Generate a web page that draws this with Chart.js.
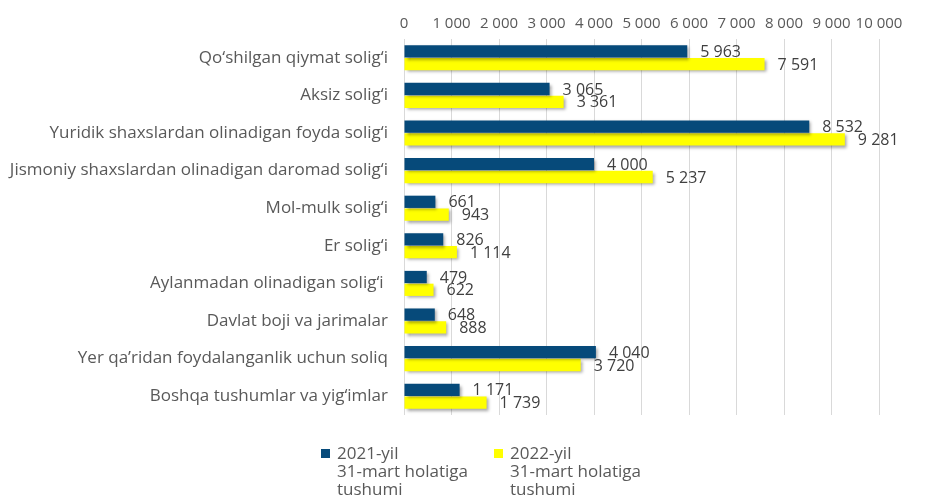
<!DOCTYPE html>
<html>
<head>
<meta charset="utf-8">
<script src="https://cdn.jsdelivr.net/npm/chart.js@4/dist/chart.umd.min.js"></script>
<style>
    html, body { margin: 0; padding: 0; background: #fff; }
    #wrap { width: 936px; height: 496px; position: relative; }
</style>
</head>
<body>
<div id="wrap"><canvas id="chart"></canvas></div>
<script>
// Soliq turlari
const categories = [
    'Qo‘shilgan qiymat solig‘i',
    'Aksiz solig‘i',
    'Yuridik shaxslardan olinadigan foyda solig‘i',
    'Jismoniy shaxslardan olinadigan daromad solig‘i',
    'Mol-mulk solig‘i',
    'Er solig‘i',
    'Aylanmadan olinadigan solig‘i ',
    'Davlat boji va jarimalar',
    'Yer qa’ridan foydalanganlik uchun soliq',
    'Boshqa tushumlar va yig‘imlar'
];

// Tushumlar, mlrd so'm
const values2021 = [5963, 3065, 8532, 4000, 661, 826, 479, 648, 4040, 1171];
const values2022 = [7591, 3361, 9281, 5237, 943, 1114, 622, 888, 3720, 1739];

const legendLabels = [
    ['2021-yil', '31-mart holatiga', 'tushumi'],
    ['2022-yil', '31-mart holatiga', 'tushumi']
];

const colors = ['#064a7a', '#ffff00'];
const FONT = '"Open Sans", sans-serif';

// 5963 -> "5 963"
const fmt = v => String(v).replace(/\B(?=(\d{3})+(?!\d))/g, ' ');

// Тень под столбцами
const barShadow = {
    id: 'barShadow',
    beforeDatasetDraw(chart) {
        const ctx = chart.ctx;
        ctx.save();
        ctx.shadowColor = 'rgba(0,0,0,0.35)';
        ctx.shadowBlur = 3;
        ctx.shadowOffsetX = 2;
        ctx.shadowOffsetY = 2;
    },
    afterDatasetDraw(chart) {
        chart.ctx.restore();
    }
};

// Подписи значений справа от столбцов
const valueLabels = {
    id: 'valueLabels',
    afterDatasetsDraw(chart) {
        const ctx = chart.ctx;
        ctx.save();
        ctx.font = '16px ' + FONT;
        ctx.fillStyle = '#404040';
        ctx.textBaseline = 'middle';
        ctx.textAlign = 'left';
        chart.data.datasets.forEach((ds, i) => {
            chart.getDatasetMeta(i).data.forEach((bar, j) => {
                ctx.fillText(fmt(ds.data[j]), bar.x + 13, bar.y + 1);
            });
        });
        ctx.restore();
    }
};

// Легенда с многострочными подписями
const multiLegend = {
    id: 'multiLegend',
    afterDraw(chart) {
        const ctx = chart.ctx;
        const xs = [321, 494];
        ctx.save();
        ctx.font = '17px ' + FONT;
        ctx.textBaseline = 'middle';
        legendLabels.forEach((lines, i) => {
            ctx.fillStyle = colors[i];
            ctx.fillRect(xs[i], 449, 9, 9);
            ctx.fillStyle = '#595959';
            lines.forEach((t, k) => ctx.fillText(t, xs[i] + 16, 454 + k * 18));
        });
        ctx.restore();
    }
};

new Chart(document.getElementById('chart'), {
    type: 'bar',
    data: {
        labels: categories,
        datasets: [
            { label: legendLabels[0].join(' '), data: values2021, backgroundColor: colors[0] },
            { label: legendLabels[1].join(' '), data: values2022, backgroundColor: colors[1] }
        ]
    },
    options: {
        indexAxis: 'y',
        responsive: true,
        maintainAspectRatio: false,
        animation: false,
        categoryPercentage: 0.68,
        barPercentage: 0.96,
        layout: { padding: { top: 0, right: 57, bottom: 81, left: 0 } },
        scales: {
            x: {
                position: 'top',
                min: 0,
                max: 10000,
                ticks: {
                    stepSize: 1000,
                    color: '#595959',
                    font: { family: FONT, size: 15 },
                    padding: 6,
                    maxRotation: 0,
                    minRotation: 0,
                    autoSkip: false,
                    callback: v => fmt(v)
                },
                grid: { color: '#d9d9d9', drawTicks: false },
                border: { display: false },
                afterFit: s => { s.height = 39; }
            },
            y: {
                ticks: {
                    color: '#595959',
                    font: { family: FONT, size: 17 },
                    padding: 8
                },
                grid: { display: false },
                border: { display: false },
                afterFit: s => { s.width = 404; }
            }
        },
        plugins: {
            legend: { display: false },
            tooltip: { enabled: false }
        }
    },
    plugins: [barShadow, valueLabels, multiLegend]
});
</script>
</body>
</html>
